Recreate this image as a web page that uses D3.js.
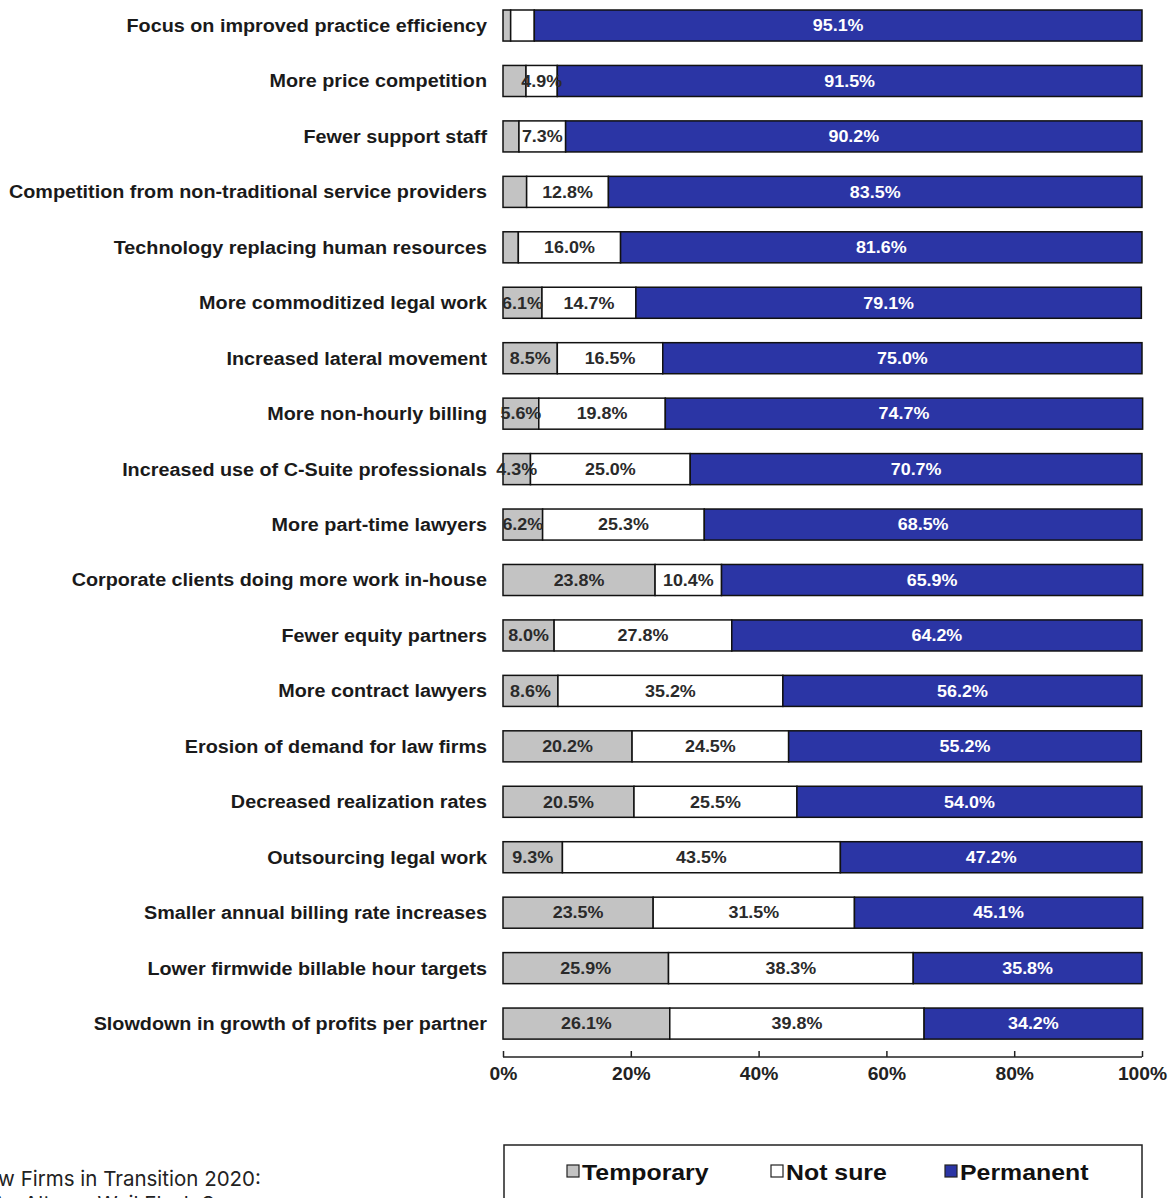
<!DOCTYPE html>
<html>
<head>
<meta charset="utf-8">
<script src="https://cdn.jsdelivr.net/npm/d3@7"></script>
<style>
  body { margin: 0; background: #fff; }
  svg { display: block; }
</style>
</head>
<body>
<svg id="chart" width="1175" height="1198"></svg>
<script>
// categories, top to bottom
var categories = [
  "Focus on improved practice efficiency",
  "More price competition",
  "Fewer support staff",
  "Competition from non-traditional service providers",
  "Technology replacing human resources",
  "More commoditized legal work",
  "Increased lateral movement",
  "More non-hourly billing",
  "Increased use of C-Suite professionals",
  "More part-time lawyers",
  "Corporate clients doing more work in-house",
  "Fewer equity partners",
  "More contract lawyers",
  "Erosion of demand for law firms",
  "Decreased realization rates",
  "Outsourcing legal work",
  "Smaller annual billing rate increases",
  "Lower firmwide billable hour targets",
  "Slowdown in growth of profits per partner"
];

var temporary = [1.2, 3.6, 2.5, 3.7, 2.4, 6.1, 8.5, 5.6, 4.3, 6.2, 23.8, 8.0, 8.6, 20.2, 20.5, 9.3, 23.5, 25.9, 26.1];
var notSure   = [3.7, 4.9, 7.3, 12.8, 16.0, 14.7, 16.5, 19.8, 25.0, 25.3, 10.4, 27.8, 35.2, 24.5, 25.5, 43.5, 31.5, 38.3, 39.8];
var permanent = [95.1, 91.5, 90.2, 83.5, 81.6, 79.1, 75.0, 74.7, 70.7, 68.5, 65.9, 64.2, 56.2, 55.2, 54.0, 47.2, 45.1, 35.8, 34.2];

// the tiny segments of the first rows carry no label
var hideLabel = { temporary: [0,1,2,3,4], notSure: [0] };

var seriesNames = ["Temporary", "Not sure", "Permanent"];
var seriesKeys = ["temporary", "notSure", "permanent"];
var colors = ["#c3c3c3", "#ffffff", "#2b35a5"];
var tickValues = [0, 20, 40, 60, 80, 100];

var rows = categories.map(function(c, i){
  return { cat: c, temporary: temporary[i], notSure: notSure[i], permanent: permanent[i], idx: i };
});

var svg = d3.select("#chart");

var x = d3.scaleLinear().domain([0, 100]).range([503, 1142]);
var y = d3.scaleBand().domain(categories).range([-2.2, 1051.3]).paddingInner(0.44).paddingOuter(0.22);

var layers = d3.stack().keys(seriesKeys)(rows);

var font = "'Liberation Sans', Arial, sans-serif";

// the original type is a bit wider than Liberation, so stretch it sideways
function place(sel, fx, fy, sx){
  sel.attr("transform", function(d, i){
    return "translate(" + fx(d, i) + "," + fy(d, i) + ") scale(" + sx + ",1)";
  });
}

// category labels
var cl = svg.append("g").selectAll("text")
  .data(categories)
  .enter().append("text")
  .attr("dy", "0.35em")
  .attr("text-anchor", "end")
  .attr("font-family", font)
  .attr("font-weight", "bold")
  .attr("font-size", 18.5)
  .attr("fill", "#1a1a1a")
  .text(function(d){ return d; });
place(cl, function(){ return 487; }, function(d){ return y(d) + y.bandwidth()/2; }, 1.07);

// bars
var g = svg.append("g");
layers.forEach(function(layer, li){
  g.append("g").selectAll("rect")
    .data(layer)
    .enter().append("rect")
    .attr("x", function(d){ return x(d[0]); })
    .attr("y", function(d){ return y(d.data.cat); })
    .attr("width", function(d){ return x(d[1]) - x(d[0]); })
    .attr("height", y.bandwidth())
    .attr("fill", colors[li])
    .attr("stroke", "#111")
    .attr("stroke-width", 1.5);
});

// value labels
layers.forEach(function(layer, li){
  var key = seriesKeys[li];
  var hidden = hideLabel[key] || [];
  var t = g.append("g").selectAll("text")
    .data(layer.filter(function(d){ return hidden.indexOf(d.data.idx) < 0; }))
    .enter().append("text")
    .attr("dy", "0.36em")
    .attr("text-anchor", "middle")
    .attr("font-family", font)
    .attr("font-weight", "bold")
    .attr("font-size", 16)
    .attr("fill", li == 2 ? "#ffffff" : "#2a2a2a")
    .text(function(d){ return d.data[key].toFixed(1) + "%"; });
  place(t, function(d){ return (x(d[0]) + x(d[1]))/2; },
           function(d){ return y(d.data.cat) + y.bandwidth()/2; }, 1.12);
});

// x axis
var axis = d3.axisBottom(x)
  .tickValues(tickValues)
  .tickSize(-6)
  .tickPadding(10)
  .tickFormat(function(d){ return d + "%"; });

var ax = svg.append("g")
  .attr("transform", "translate(0,1057)")
  .call(axis);
ax.select(".domain").attr("stroke", "#222").attr("stroke-width", 1.5).attr("d", "M503,0H1142");
ax.selectAll(".tick line").attr("stroke", "#222").attr("stroke-width", 1.5);
ax.selectAll(".tick text")
  .attr("font-family", font)
  .attr("font-weight", "bold")
  .attr("font-size", 17.5)
  .attr("fill", "#222")
  .attr("y", 0)
  .attr("dy", 0)
  .attr("transform", "translate(0,23) scale(1.1,1)");

// legend
var lg = svg.append("g");
lg.append("rect")
  .attr("x", 504).attr("y", 1145)
  .attr("width", 638).attr("height", 70)
  .attr("fill", "#fff")
  .attr("stroke", "#222").attr("stroke-width", 1.5);

var legendX = [567, 771, 945];
seriesNames.forEach(function(name, i){
  lg.append("rect")
    .attr("x", legendX[i]).attr("y", 1165)
    .attr("width", 12).attr("height", 12)
    .attr("fill", colors[i])
    .attr("stroke", "#222").attr("stroke-width", 1.2);
  lg.append("text")
    .attr("transform", "translate(" + (legendX[i] + 15) + ",1180) scale(1.13,1)")
    .attr("font-family", font)
    .attr("font-weight", "bold")
    .attr("font-size", 22)
    .attr("fill", "#111")
    .text(name);
});

// source note, cut by the left edge as in the original
svg.append("text")
  .attr("x", -25).attr("y", 1186)
  .attr("font-family", "Inter, 'Open Sans', sans-serif")
  .attr("font-size", 20.5)
  .attr("fill", "#222")
  .text("Law Firms in Transition 2020:");
svg.append("text")
  .attr("x", -8).attr("y", 1211)
  .attr("font-family", "Inter, 'Open Sans', sans-serif")
  .attr("font-size", 20.5)
  .attr("fill", "#222")
  .text("An Altman Weil Flash Survey");
</script>
</body>
</html>
